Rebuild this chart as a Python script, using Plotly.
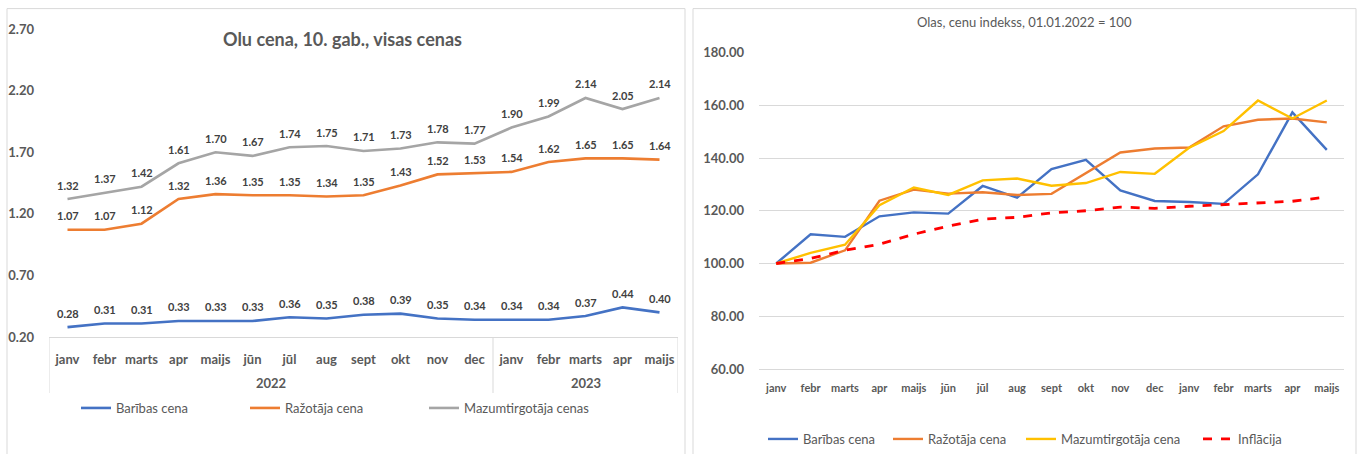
import plotly.graph_objects as go

W, H = 1362, 454

months = ["janv", "febr", "marts", "apr", "maijs", "jūn", "jūl", "aug", "sept", "okt",
          "nov", "dec", "janv", "febr", "marts", "apr", "maijs"]
years = ["2022"] * 12 + ["2023"] * 5

# Left chart: prices (EUR per 10 eggs)
baribas_cena = [0.28, 0.31, 0.31, 0.33, 0.33, 0.33, 0.36, 0.35, 0.38, 0.39, 0.35, 0.34, 0.34, 0.34, 0.37, 0.44, 0.40]
razotaja_cena = [1.07, 1.07, 1.12, 1.32, 1.36, 1.35, 1.35, 1.34, 1.35, 1.43, 1.52, 1.53, 1.54, 1.62, 1.65, 1.65, 1.64]
mazumtirg_cenas = [1.32, 1.37, 1.42, 1.61, 1.70, 1.67, 1.74, 1.75, 1.71, 1.73, 1.78, 1.77, 1.90, 1.99, 2.14, 2.05, 2.14]

# Right chart: price index, 01.01.2022 = 100
idx_baribas = [100.0, 111.1, 110.1, 117.9, 119.4, 118.9, 129.4, 125.0, 135.8, 139.3, 127.7, 123.7, 123.3, 122.6, 133.8, 157.3, 143.1]
idx_razotaja = [100.0, 100.3, 105.0, 123.8, 128.0, 126.5, 127.0, 126.0, 126.4, 134.3, 142.1, 143.6, 144.0, 152.0, 154.5, 155.0, 153.5]
idx_mazumtirg = [100.0, 104.0, 107.1, 122.1, 128.8, 126.0, 131.5, 132.2, 129.5, 130.5, 134.7, 134.0, 143.9, 150.2, 161.8, 155.0, 161.8]
idx_inflacija = [100.0, 101.9, 105.0, 107.3, 111.1, 114.2, 116.8, 117.5, 119.2, 120.0, 121.4, 120.9, 121.7, 122.3, 123.1, 123.6, 125.2]

FONT = "Lato"
GRAY_TXT = "#595959"
LBL_TXT = "#404040"
LINE_GRAY = "#D9D9D9"

# observed rendering box (vertical): top offset and effective height
TOP, BOXH = 8.0, 438.0

def px_x(p):
    return p / W

def px_y(p):
    return 1 - (p - TOP) / BOXH

xs = list(range(len(months)))

fig = go.Figure()

legend_cfg = {}
leg_font = dict(family=FONT, size=13, color=GRAY_TXT)
LEG_TXT_OFF = 38

# ---- Left chart ----
left_series = [
    ("Barības cena", baribas_cena, "#4472C4", 114),
    ("Ražotāja cena", razotaja_cena, "#ED7D31", 283),
    ("Mazumtirgotāja cenas", mazumtirg_cenas, "#A5A5A5", 462),
]
leg_n = 1
for name, vals, col, txt_x in left_series:
    lname = "legend" if leg_n == 1 else f"legend{leg_n}"
    legend_cfg[lname] = dict(orientation="h", x=px_x(txt_x - LEG_TXT_OFF), y=px_y(408),
                             xanchor="left", yanchor="middle", font=leg_font,
                             bgcolor="rgba(0,0,0,0)")
    fig.add_trace(go.Scatter(x=xs, y=vals, name=name, mode="lines",
                             line=dict(color=col, width=2.6),
                             xaxis="x", yaxis="y", legend=lname))
    leg_n += 1
    for i, v in enumerate(vals):
        fig.add_annotation(x=i, y=v, xref="x", yref="y", text=f"{v:.2f}",
                           showarrow=False, yshift=14, xanchor="center",
                           font=dict(family=FONT, size=11, color=LBL_TXT, weight="bold"))

# ---- Right chart ----
right_series = [
    ("Barības cena", idx_baribas, "#4472C4", "solid", 2.4, 801),
    ("Ražotāja cena", idx_razotaja, "#ED7D31", "solid", 2.4, 926),
    ("Mazumtirgotāja cena", idx_mazumtirg, "#FFC000", "solid", 2.4, 1059),
    ("Inflācija", idx_inflacija, "#FF0000", "dash", 2.8, 1236),
]
for name, vals, col, dash, w, txt_x in right_series:
    lname = f"legend{leg_n}"
    legend_cfg[lname] = dict(orientation="h", x=px_x(txt_x - LEG_TXT_OFF), y=px_y(439),
                             xanchor="left", yanchor="middle", font=leg_font,
                             bgcolor="rgba(0,0,0,0)")
    fig.add_trace(go.Scatter(x=xs, y=vals, name=name, mode="lines",
                             line=dict(color=col, width=w, dash=dash),
                             xaxis="x2", yaxis="y2", legend=lname))
    leg_n += 1

# year group labels + dividers (left chart)
groups = []
for i, yv in enumerate(years):
    if not groups or groups[-1][0] != yv:
        groups.append([yv, i, i])
    else:
        groups[-1][2] = i
for yv, a, b in groups:
    fig.add_annotation(x=(a + b) / 2, y=px_y(383), xref="x", yref="paper", text=yv,
                       showarrow=False, yanchor="middle", xanchor="center",
                       font=dict(family=FONT, size=13, color=GRAY_TXT, weight="bold"))
div_pos = [groups[0][1] - 0.5] + [g[2] + 0.5 for g in groups]
for d in div_pos:
    fig.add_shape(type="line", xref="x", yref="paper", x0=d, x1=d,
                  y0=px_y(337), y1=px_y(393), line=dict(color=LINE_GRAY, width=1))

# panel borders
fig.add_shape(type="rect", xref="paper", yref="paper", x0=px_x(7), x1=px_x(685),
              y0=-0.2, y1=px_y(8.6), line=dict(color=LINE_GRAY, width=1))
fig.add_shape(type="rect", xref="paper", yref="paper", x0=px_x(693), x1=px_x(1356),
              y0=-0.2, y1=px_y(8.6), line=dict(color=LINE_GRAY, width=1))

# titles
fig.add_annotation(x=px_x(342), y=px_y(39), xref="paper", yref="paper",
                   xanchor="center", yanchor="middle",
                   text="Olu cena, 10. gab., visas cenas", showarrow=False,
                   font=dict(family=FONT, size=18, color=GRAY_TXT, weight="bold"))
fig.add_annotation(x=px_x(1024), y=px_y(22), xref="paper", yref="paper",
                   xanchor="center", yanchor="middle",
                   text="Olas, cenu indekss, 01.01.2022 = 100", showarrow=False,
                   font=dict(family=FONT, size=13, color=GRAY_TXT))

tickfont_l = dict(family=FONT, size=13, color=GRAY_TXT, weight="bold")
tickfont_r = dict(family=FONT, size=11, color=GRAY_TXT, weight="bold")

fig.update_layout(
    width=W, height=H,
    margin=dict(l=0, r=0, t=0, b=0),
    paper_bgcolor="white", plot_bgcolor="white",
    font=dict(family=FONT, color=GRAY_TXT),
    xaxis=dict(domain=[px_x(49), px_x(678)], range=[-0.5, 16.5],
               tickvals=xs, ticktext=months, tickfont=tickfont_l,
               showgrid=False, zeroline=False, showline=True, linecolor=LINE_GRAY,
               linewidth=1, ticks="", ticklabelstandoff=10),
    yaxis=dict(domain=[px_y(337), px_y(29)], range=[0.2, 2.7],
               tickvals=[0.2, 0.7, 1.2, 1.7, 2.2, 2.7], tickformat=".2f",
               tickfont=dict(family=FONT, size=13, color=GRAY_TXT, weight="bold"),
               showgrid=False, zeroline=False, showline=False, ticks="",
               ticklabelstandoff=14),
    xaxis2=dict(domain=[px_x(759), px_x(1344)], range=[-0.5, 16.5],
                tickvals=xs, ticktext=months, tickfont=tickfont_r,
                showgrid=False, zeroline=False, showline=True, linecolor=LINE_GRAY,
                linewidth=1, ticks="", ticklabelstandoff=9, anchor="y2"),
    yaxis2=dict(domain=[px_y(369), px_y(52.5)], range=[60, 180], dtick=20,
                tickformat=".2f",
                tickfont=dict(family=FONT, size=13, color=GRAY_TXT, weight="bold"),
                showgrid=True, gridcolor=LINE_GRAY, gridwidth=1,
                zeroline=False, showline=False, ticks="", ticklabelstandoff=14,
                anchor="x2"),
    showlegend=True,
    **legend_cfg,
)

fig.write_html("out.html", config={"displayModeBar": False},
               post_script="document.body.style.margin='0';document.body.style.overflow='hidden';")
